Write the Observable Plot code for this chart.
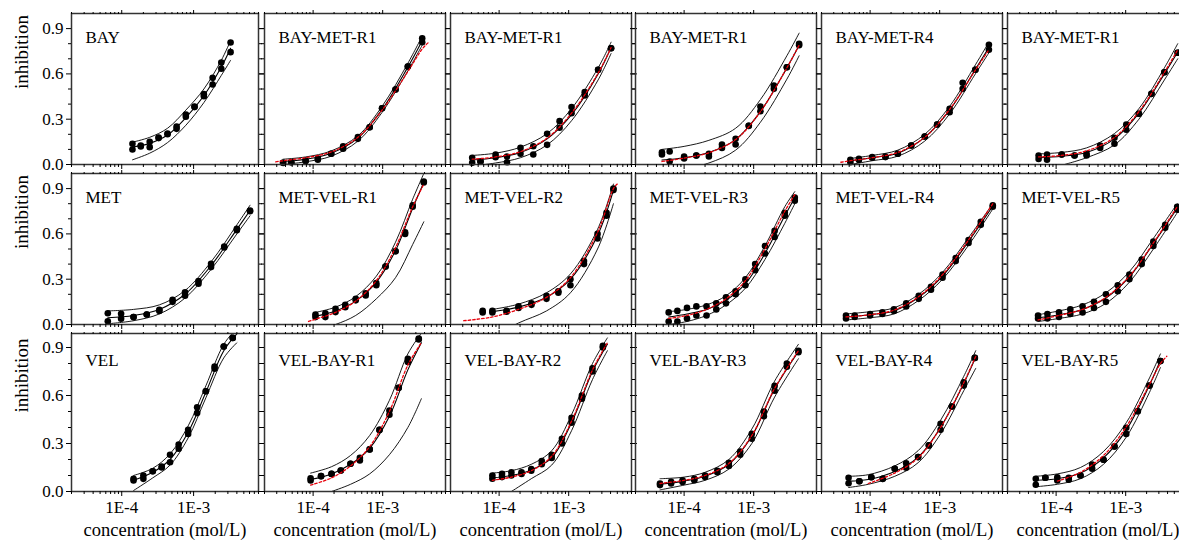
<!DOCTYPE html>
<html><head><meta charset="utf-8">
<script src="https://cdn.jsdelivr.net/npm/d3@7"></script>
<script src="https://cdn.jsdelivr.net/npm/@observablehq/plot@0.6"></script>
<style>
html,body{margin:0;padding:0;background:#fff;}
body{width:1179px;height:542px;overflow:hidden;position:relative;}
#chart{position:absolute;left:0;top:0;width:1179px;height:542px;font-family:"Liberation Serif",serif;}
#chart svg text{font-family:"Liberation Serif",serif;}
</style></head><body><div id="chart"></div>
<script>
// ---------- DATA ----------
const panelNames = ["BAY","BAY-MET-R1","BAY-MET-R1","BAY-MET-R1","BAY-MET-R4","BAY-MET-R1",
  "MET","MET-VEL-R1","MET-VEL-R2","MET-VEL-R3","MET-VEL-R4","MET-VEL-R5",
  "VEL","VEL-BAY-R1","VEL-BAY-R2","VEL-BAY-R3","VEL-BAY-R4","VEL-BAY-R5"];

// tested concentrations (mol/L)
const conc = [
  [1.41e-4,1.84e-4,2.45e-4,3.26e-4,4.34e-4,5.8e-4,7.8e-4,1.03e-3,1.39e-3,1.84e-3,2.43e-3,3.27e-3],
  [3.7e-5,4.85e-5,7.8e-5,1.17e-4,1.82e-4,2.7e-4,4.4e-4,6.5e-4,9.8e-4,1.53e-3,2.3e-3,3.7e-3],
  [4.1e-5,5.4e-5,8.9e-5,1.3e-4,2.03e-4,3.1e-4,4.9e-4,7.4e-4,1.1e-3,1.7e-3,2.65e-3,4.07e-3],
  [4.8e-5,6.2e-5,1e-4,1.5e-4,2.27e-4,3.5e-4,5.5e-4,8.5e-4,1.25e-3,1.95e-3,3.0e-3,4.5e-3],
  [5.2e-5,6.9e-5,1.07e-4,1.66e-4,2.5e-4,3.9e-4,6.1e-4,9.2e-4,1.39e-3,2.14e-3,3.26e-3,5.1e-3],
  [5.6e-5,7.4e-5,1.2e-4,1.84e-4,2.74e-4,4.3e-4,6.9e-4,1.02e-3,1.55e-3,2.35e-3,3.6e-3,5.6e-3],
  [6.4e-5,9.8e-5,1.46e-4,2.23e-4,3.34e-4,5.1e-4,7.6e-4,1.17e-3,1.75e-3,2.67e-3,4.0e-3,6.1e-3],
  [1.08e-4,1.5e-4,2.1e-4,2.9e-4,4.1e-4,5.7e-4,8.1e-4,1.1e-3,1.53e-3,2.1e-3,2.7e-3,3.9e-3],
  [5.8e-5,8e-5,1.28e-4,1.9e-4,2.92e-4,4.8e-4,7.1e-4,1.06e-3,1.66e-3,2.6e-3,3.5e-3,4.4e-3],
  [6e-5,8e-5,1.1e-4,1.5e-4,2.1e-4,2.9e-4,4e-4,5.5e-4,7.6e-4,1.05e-3,1.45e-3,2e-3,2.8e-3,3.9e-3],
  [4.5e-5,6e-5,1e-4,1.5e-4,2.2e-4,3.3e-4,5e-4,7.5e-4,1.1e-3,1.7e-3,2.6e-3,3.9e-3,5.8e-3],
  [5.5e-5,7.5e-5,1.1e-4,1.6e-4,2.4e-4,3.5e-4,5.2e-4,7.7e-4,1.13e-3,1.7e-3,2.5e-3,3.7e-3,5.5e-3],
  [1.46e-4,2.0e-4,2.7e-4,3.6e-4,4.7e-4,6.2e-4,8.4e-4,1.12e-3,1.48e-3,1.96e-3,2.63e-3,3.5e-3],
  [9.2e-5,1.3e-4,1.84e-4,2.5e-4,3.45e-4,4.7e-4,6.5e-4,9e-4,1.25e-3,1.7e-3,2.3e-3,3.3e-3],
  [8e-5,1.1e-4,1.5e-4,2.1e-4,2.9e-4,4.1e-4,5.7e-4,8e-4,1.1e-3,1.55e-3,2.2e-3,3.1e-3],
  [4.5e-5,6.5e-5,9.5e-5,1.4e-4,2e-4,3e-4,4.4e-4,6.4e-4,9.4e-4,1.4e-3,2e-3,3e-3,4.4e-3],
  [4.9e-5,7.0e-5,1.04e-4,1.52e-4,2.26e-4,3.3e-4,4.9e-4,7.0e-4,1.03e-3,1.5e-3,2.22e-3,3.2e-3],
  [5.1e-5,7.0e-5,1.04e-4,1.52e-4,2.24e-4,3.3e-4,4.8e-4,6.9e-4,1.02e-3,1.49e-3,2.2e-3,3.16e-3]
];
// replicate 1 inhibition
const rep1 = [
  [0.137,0.126,0.150,0.179,0.205,0.252,0.331,0.384,0.466,0.574,0.675,0.808],
  [0.011,0.015,0.024,0.040,0.071,0.121,0.181,0.247,0.373,0.497,0.649,0.836],
  [0.044,0.020,0.066,0.053,0.110,0.121,0.203,0.287,0.380,0.479,0.627,0.770],
  [0.081,0.086,0.053,0.060,0.071,0.132,0.170,0.256,0.384,0.523,0.644,0.800],
  [0.031,0.037,0.049,0.053,0.071,0.126,0.185,0.265,0.369,0.541,0.627,0.793],
  [0.060,0.066,0.066,0.060,0.071,0.126,0.177,0.265,0.336,0.468,0.611,0.740],
  [0.075,0.071,0.049,0.066,0.097,0.164,0.214,0.287,0.402,0.517,0.634,0.755],
  [0.066,0.075,0.104,0.130,0.170,0.207,0.274,0.384,0.485,0.610,0.790,0.947],
  [0.090,0.090,0.090,0.120,0.140,0.190,0.220,0.300,0.420,0.600,0.740,0.900],
  [0.080,0.090,0.110,0.120,0.120,0.140,0.180,0.220,0.300,0.400,0.520,0.620,0.740,0.840],
  [0.060,0.060,0.070,0.080,0.100,0.140,0.190,0.250,0.330,0.440,0.560,0.680,0.790],
  [0.060,0.070,0.080,0.100,0.120,0.150,0.200,0.260,0.330,0.430,0.550,0.660,0.780],
  [0.079,0.100,0.127,0.156,0.230,0.294,0.385,0.527,0.627,0.781,0.906,0.960],
  [0.083,0.096,0.110,0.131,0.173,0.210,0.263,0.385,0.506,0.648,0.830,0.956],
  [0.100,0.110,0.120,0.120,0.140,0.190,0.230,0.330,0.460,0.600,0.770,0.910],
  [0.050,0.060,0.070,0.080,0.100,0.130,0.180,0.250,0.360,0.500,0.660,0.800,0.880],
  [0.086,0.064,0.089,0.079,0.142,0.177,0.215,0.288,0.423,0.531,0.683,0.835],
  [0.079,0.086,0.089,0.086,0.100,0.169,0.198,0.281,0.398,0.502,0.662,0.815]
];
// replicate 2 inhibition
const rep2 = [
  [0.099,0.120,0.115,0.175,0.200,0.236,0.316,0.380,0.452,0.530,0.634,0.744],
  [0.011,0.015,0.024,0.031,0.071,0.104,0.170,0.247,0.373,0.497,0.649,0.810],
  [0.011,0.020,0.048,0.015,0.071,0.066,0.130,0.243,0.340,0.457,0.627,0.770],
  [0.066,0.020,0.040,0.060,0.053,0.110,0.132,0.256,0.353,0.501,0.644,0.790],
  [0.015,0.030,0.045,0.049,0.071,0.126,0.185,0.265,0.346,0.501,0.627,0.760],
  [0.037,0.031,0.066,0.060,0.060,0.110,0.137,0.230,0.336,0.468,0.611,0.740],
  [0.022,0.038,0.049,0.066,0.090,0.150,0.190,0.270,0.380,0.510,0.625,0.750],
  [0.049,0.049,0.082,0.115,0.160,0.192,0.260,0.384,0.485,0.600,0.780,0.940],
  [0.080,0.080,0.085,0.110,0.130,0.170,0.210,0.260,0.400,0.570,0.720,0.890],
  [0.020,0.020,0.040,0.060,0.060,0.100,0.140,0.200,0.260,0.360,0.470,0.580,0.720,0.820],
  [0.040,0.050,0.060,0.070,0.090,0.120,0.170,0.230,0.310,0.420,0.540,0.660,0.780],
  [0.040,0.040,0.050,0.070,0.080,0.110,0.150,0.220,0.300,0.400,0.520,0.640,0.760],
  [0.069,0.079,0.127,0.150,0.183,0.267,0.360,0.490,0.627,0.767,0.906,0.960],
  [0.069,0.096,0.110,0.131,0.173,0.194,0.263,0.385,0.480,0.648,0.810,0.950],
  [0.080,0.090,0.100,0.110,0.130,0.170,0.210,0.300,0.430,0.580,0.750,0.900],
  [0.040,0.050,0.060,0.070,0.090,0.120,0.160,0.230,0.330,0.470,0.630,0.780,0.870],
  [0.052,0.064,0.089,0.079,0.142,0.148,0.215,0.288,0.386,0.531,0.662,0.835],
  [0.042,0.086,0.069,0.073,0.100,0.142,0.198,0.281,0.360,0.502,0.662,0.815]
];
// concentrations at which the drawn curves were read
const curveConc = [
  [1.41e-4,2.45e-4,4.34e-4,7.8e-4,1.39e-3,2.43e-3,3.27e-3],
  [2.9e-5,3.7e-5,7.8e-5,1.82e-4,4.4e-4,9.8e-4,2.3e-3,3.7e-3,4.6e-3],
  [4.1e-5,8.9e-5,2.03e-4,4.9e-4,1.1e-3,2.65e-3,4.07e-3],
  [4.8e-5,1e-4,2.27e-4,5.5e-4,1.25e-3,3.0e-3,4.5e-3],
  [3.8e-5,5.2e-5,1.07e-4,2.5e-4,6.1e-4,1.39e-3,3.26e-3,5.1e-3],
  [5.6e-5,1.2e-4,2.74e-4,6.9e-4,1.55e-3,3.6e-3,5.6e-3],
  [6.4e-5,1.46e-4,3.34e-4,7.6e-4,1.75e-3,4.0e-3,6.1e-3],
  [8.6e-5,1.08e-4,2.1e-4,4.1e-4,8.1e-4,1.53e-3,2.7e-3,3.9e-3],
  [3.1e-5,8e-5,1.9e-4,4.8e-4,1.06e-3,2.6e-3,4.4e-3,5e-3],
  [6e-5,1.1e-4,2.1e-4,4e-4,7.6e-4,1.45e-3,2.8e-3,3.9e-3],
  [4.5e-5,1e-4,2.2e-4,5e-4,1.1e-3,2.6e-3,5.8e-3],
  [5.5e-5,1.1e-4,2.4e-4,5.2e-4,1.13e-3,2.5e-3,5.5e-3],
  [1.46e-4,2.7e-4,4.7e-4,8.4e-4,1.48e-3,2.63e-3,4e-3],
  [9.2e-5,1.84e-4,3.45e-4,6.5e-4,1.25e-3,2.3e-3,3.6e-3],
  [8e-5,1.5e-4,2.9e-4,5.7e-4,1.1e-3,2.2e-3,3.6e-3],
  [4.5e-5,1e-4,2e-4,4.4e-4,9.4e-4,2e-3,4.4e-3],
  [4.9e-5,9.4e-5,2.26e-4,4.9e-4,1.03e-3,2.22e-3,3.3e-3],
  [5.1e-5,1.04e-4,2.24e-4,4.8e-4,1.02e-3,2.2e-3,3.16e-3,3.9e-3]
];
// fitted concentration-response curve
const fitCurve = [
  [0.115,0.14,0.195,0.31,0.455,0.645,0.77],
  [null,0.02,0.035,0.075,0.175,0.365,0.645,0.82,null],
  [0.03,0.045,0.08,0.17,0.33,0.60,0.775],
  [0.03,0.045,0.08,0.165,0.35,0.64,0.79],
  [null,0.025,0.045,0.075,0.18,0.36,0.63,0.775],
  [0.045,0.055,0.08,0.17,0.34,0.60,0.745],
  [0.045,0.06,0.10,0.20,0.39,0.63,0.755],
  [null,0.055,0.09,0.155,0.28,0.49,0.77,0.94],
  [null,0.085,0.115,0.18,0.30,0.59,0.89,null],
  [0.05,0.07,0.10,0.16,0.27,0.47,0.72,0.84],
  [0.05,0.065,0.09,0.18,0.32,0.55,0.785],
  [0.045,0.065,0.10,0.175,0.315,0.535,0.77],
  [0.07,0.12,0.20,0.37,0.62,0.88,0.985],
  [0.075,0.11,0.17,0.27,0.47,0.76,0.93],
  [0.085,0.10,0.135,0.21,0.43,0.75,0.92],
  [0.045,0.065,0.095,0.17,0.345,0.64,0.875],
  [0.065,0.075,0.125,0.215,0.40,0.675,0.84],
  [0.07,0.08,0.115,0.21,0.385,0.665,0.82,null]
];
// upper confidence band
const upperBand = [
  [0.148,0.18,0.24,0.36,0.50,0.69,0.82],
  [null,0.035,0.05,0.09,0.19,0.385,0.67,0.85,null],
  [0.06,0.075,0.115,0.205,0.37,0.64,0.81],
  [0.10,0.12,0.16,0.24,0.43,0.72,0.87],
  [null,0.04,0.06,0.095,0.20,0.385,0.66,0.81],
  [0.07,0.08,0.11,0.205,0.37,0.64,0.80],
  [0.09,0.10,0.13,0.225,0.415,0.66,0.79],
  [null,0.08,0.115,0.185,0.32,0.545,0.83,1.0],
  [null,0.10,0.135,0.21,0.335,0.63,0.93,null],
  [0.085,0.10,0.13,0.19,0.31,0.52,0.78,0.88],
  [0.07,0.085,0.11,0.20,0.345,0.575,0.80],
  [0.065,0.09,0.13,0.21,0.35,0.57,0.80],
  [0.10,0.145,0.235,0.41,0.66,0.92,1.02],
  [0.115,0.155,0.225,0.35,0.57,0.86,0.99],
  [0.115,0.13,0.17,0.255,0.48,0.80,0.96],
  [0.08,0.09,0.12,0.20,0.39,0.69,0.92],
  [0.095,0.105,0.16,0.255,0.445,0.72,0.88],
  [0.095,0.11,0.15,0.25,0.43,0.71,0.86,null]
];
// lower confidence band
const lowerBand = [
  [0.031,0.075,0.145,0.26,0.41,0.59,0.69],
  [null,0.0,0.018,0.055,0.155,0.345,0.62,0.79,null],
  [-0.01,0.01,0.045,0.13,0.29,0.56,0.735],
  [null,-0.03,0.01,0.095,0.28,0.565,0.72],
  [null,0.0,0.025,0.055,0.155,0.335,0.60,0.74],
  [null,-0.005,0.045,0.13,0.30,0.56,0.70],
  [0.005,0.025,0.07,0.175,0.365,0.60,0.72],
  [null,-0.04,0.0,0.06,0.17,0.31,0.53,0.68],
  [null,-0.08,0.01,0.09,0.21,0.50,0.80,null],
  [0.0,0.02,0.06,0.13,0.24,0.43,0.67,0.80],
  [0.03,0.045,0.07,0.16,0.30,0.525,0.765],
  [0.02,0.04,0.07,0.14,0.28,0.50,0.74],
  [0.006,0.085,0.165,0.335,0.585,0.835,0.93],
  [null,0.0,0.045,0.11,0.23,0.40,0.58],
  [null,0.0,0.08,0.165,0.38,0.70,0.88],
  [0.01,0.04,0.07,0.14,0.30,0.59,0.83],
  [0.025,0.045,0.095,0.18,0.36,0.63,0.77],
  [0.03,0.045,0.08,0.17,0.34,0.62,0.775,null]
];
// predicted mixture curve (red dotted); null for single compounds
const predCurve = [
  null,
  [0.018,0.025,0.045,0.083,0.18,0.36,0.615,0.765,0.81],
  [0.035,0.05,0.085,0.175,0.34,0.605,0.775],
  [0.02,0.042,0.078,0.165,0.35,0.64,0.79],
  [0.015,0.025,0.045,0.08,0.18,0.365,0.625,0.76],
  [0.05,0.06,0.09,0.18,0.35,0.61,0.76],
  null,
  [0.02,0.035,0.08,0.155,0.29,0.51,0.78,0.93],
  [0.025,0.05,0.10,0.18,0.31,0.61,0.90,0.93],
  [0.04,0.06,0.10,0.17,0.29,0.50,0.75,0.86],
  [0.05,0.065,0.095,0.185,0.33,0.56,0.80],
  [0.03,0.06,0.10,0.18,0.32,0.54,0.78],
  null,
  [0.04,0.085,0.16,0.28,0.50,0.79,0.93],
  [0.07,0.09,0.13,0.22,0.44,0.76,0.93],
  [0.05,0.07,0.10,0.175,0.35,0.645,0.88],
  [null,0.05,0.115,0.21,0.40,0.68,0.845],
  [null,0.065,0.12,0.225,0.405,0.67,0.80,0.845]
];
const yTicks = [0, 0.3, 0.6, 0.9];
const yTickLabels = ["0.0","0.3","0.6","0.9"];
const xTicks = [1e-4, 1e-3];
const xTickLabels = ["1E-4","1E-3"];
const xLabel = "concentration (mol/L)";
const yLabel = "inhibition";

// ---------- LAYOUT ----------
const colLeft = [71, 264, 450, 635, 821, 1007];
const colWidth = [187, 181, 181, 181, 181, 181];
const rowTop = [13, 173, 333];
const rowHeight = [151, 151, 158];
const rowYMax = [1.0, 1.0, 0.9875];
const xDomain = [2e-5, 8e-3];
const yMinor = d3.range(0, 10).map(k => k / 10).filter(v => !yTicks.includes(v));
const xMinor = [];
for (const e of [-5, -4, -3]) for (let m = 2; m <= 9; m++) { const v = m * Math.pow(10, e); if (v >= xDomain[0] && v <= xDomain[1]) xMinor.push(v); }

const FONT = "Liberation Serif";
const frameColor = "#333";
const root = document.getElementById("chart");

panelNames.forEach((name, i) => {
  const r = Math.floor(i / 6), c = i % 6;
  const mL = c === 0 ? 71 : 8, mR = 8, mT = 8, mB = r === 2 ? 51 : 8;
  const pts = [];
  conc[i].forEach((x, k) => {
    for (const rep of [rep1, rep2]) { const v = rep[i][k]; if (v != null) pts.push({x, y: v}); }
  });
  const curve = arr => arr[i] ? curveConc[i].map((x, k) => ({x, y: arr[i][k]})).filter(d => d.y != null) : [];
  const blank = () => "";
  const marks = [
    Plot.line(curve(upperBand), {x: "x", y: "y", curve: "catmull-rom", stroke: "#000", strokeWidth: 0.9, clip: true}),
    Plot.line(curve(lowerBand), {x: "x", y: "y", curve: "catmull-rom", stroke: "#000", strokeWidth: 0.9, clip: true}),
    Plot.line(curve(fitCurve), {x: "x", y: "y", curve: "catmull-rom", stroke: "#000", strokeWidth: 1.1, clip: true}),
    Plot.dot(pts, {x: "x", y: "y", r: 3.3, fill: "#000", stroke: "none"}),
    Plot.line(curve(predCurve), {x: "x", y: "y", curve: "catmull-rom", stroke: "#e8000b", strokeWidth: 1.3, strokeDasharray: "2.5,2", clip: true}),
    Plot.frame({stroke: frameColor, strokeWidth: 1.5}),
    Plot.axisY({ticks: yMinor, anchor: "left", tickSize: 3, tickFormat: blank, label: null, strokeWidth: 1}),
    Plot.axisY({ticks: yTicks, anchor: "left", tickSize: 5, tickPadding: 3, label: null, strokeWidth: 1,
      tickFormat: c === 0 ? (d => yTickLabels[yTicks.indexOf(d)]) : blank, fontSize: 17, fontFamily: FONT}),
    Plot.axisY({ticks: yMinor, anchor: "right", tickSize: 3, tickFormat: blank, label: null, strokeWidth: 1}),
    Plot.axisY({ticks: yTicks, anchor: "right", tickSize: 5, tickFormat: blank, label: null, strokeWidth: 1}),
    Plot.axisX({ticks: xMinor, anchor: "bottom", tickSize: 3, tickFormat: blank, label: null, strokeWidth: 1}),
    Plot.axisX({ticks: xMinor, anchor: "top", tickSize: 2, tickFormat: blank, label: null, strokeWidth: 1}),
    Plot.axisX({ticks: xTicks, anchor: "top", tickSize: 4, tickFormat: blank, label: null, strokeWidth: 1}),
    Plot.text([name], {text: d => d, frameAnchor: "top-left", dx: 14, dy: r === 2 ? 27 : 24, textAnchor: "start", lineAnchor: "middle", fontSize: 17, fontFamily: FONT, fill: "#000"})
  ];
  if (r === 2) {
    marks.push(Plot.axisX({ticks: xTicks, anchor: "bottom", tickSize: 5, label: null, strokeWidth: 1, tickFormat: blank}));
    marks.push(Plot.text(xTicks, {x: d => d, frameAnchor: "bottom", dy: 16, text: d => xTickLabels[xTicks.indexOf(d)], fontSize: 17, fontFamily: FONT, fill: "#000", lineAnchor: "middle"}));
    marks.push(Plot.text([xLabel], {text: d => d, frameAnchor: "bottom", dy: 39, fontSize: 18.5, fontFamily: FONT, fill: "#000", lineAnchor: "middle"}));
  } else {
    marks.push(Plot.axisX({ticks: xTicks, anchor: "bottom", tickSize: 5, tickFormat: blank, label: null, strokeWidth: 1}));
  }
  if (c === 0) marks.push(Plot.text([yLabel], {text: d => d, frameAnchor: "left", dx: -50, rotate: -90, fontSize: 19, fontFamily: FONT, fill: "#000"}));

  const svg = Plot.plot({
    width: colWidth[c] + mL + mR,
    height: rowHeight[r] + mT + mB,
    marginLeft: mL, marginRight: mR, marginTop: mT, marginBottom: mB,
    x: {type: "log", domain: xDomain},
    y: {domain: [0, rowYMax[r]]},
    style: {background: "transparent", fontFamily: FONT, fontSize: "17px", color: "#000", overflow: "visible", maxWidth: "none"},
    marks
  });
  const div = document.createElement("div");
  div.style.cssText = `position:absolute;left:${colLeft[c] - mL}px;top:${rowTop[r] - mT}px;`;
  div.appendChild(svg);
  root.appendChild(div);
});
</script></body></html>
